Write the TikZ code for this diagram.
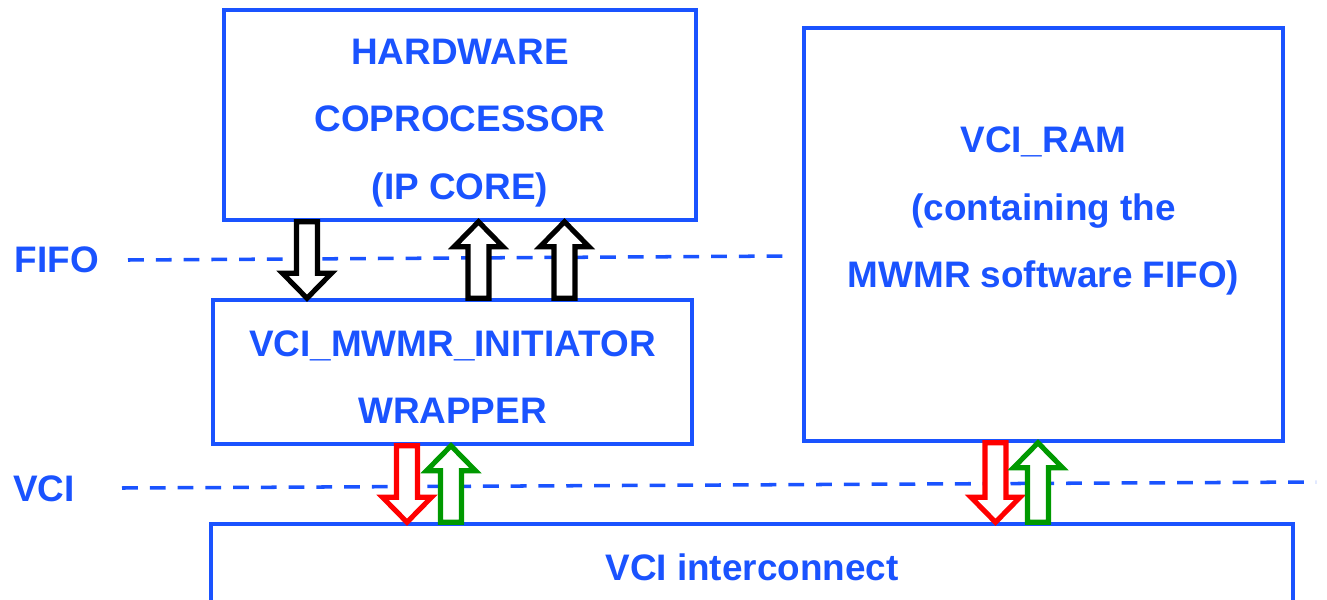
\documentclass[tikz,border=0pt]{standalone}
\usepackage{fontspec}
\setmainfont{Liberation Sans}
\usetikzlibrary{calc, positioning}
\definecolor{azul}{RGB}{26,83,255}
\definecolor{verde}{RGB}{0,153,0}

% hollow block arrow from tail #2 to tip #3
\newcommand{\shaftw}{0.21cm}
\newcommand{\headw}{0.49cm}
\newcommand{\headl}{0.5cm}
\newcommand{\fatarrow}[3]{%
  \coordinate (fa-t) at #2;
  \coordinate (fa-h) at #3;
  \coordinate (fa-b) at ($(fa-h)!\headl!(fa-t)$);
  \draw[#1] ($(fa-t)!\shaftw!90:(fa-h)$) -- ($(fa-b)!\shaftw!-90:(fa-t)$)
    -- ($(fa-b)!\headw!-90:(fa-t)$) -- (fa-h)
    -- ($(fa-b)!\headw!90:(fa-t)$) -- ($(fa-b)!\shaftw!90:(fa-t)$)
    -- ($(fa-t)!\shaftw!-90:(fa-h)$) -- cycle;}

\tikzset{
  unit/.style={draw=azul, line width=2pt},
  unittext/.style={align=center, text=azul,
    font=\bfseries\fontsize{21}{38.5}\selectfont},
  lbl/.style={text=azul, font=\bfseries\fontsize{21}{25}\selectfont},
  bus/.style={azul, line width=2pt, dash pattern=on 9pt off 6.8pt},
  fifoarrow/.style={draw=black, fill=white, line width=2.9pt},
  cmdarrow/.style={draw=red, fill=white, line width=2.9pt},
  rsparrow/.style={draw=verde, fill=white, line width=2.9pt},
}

\begin{document}
\begin{tikzpicture}
  \useasboundingbox (0,0) rectangle (26.54,-11.98);
  \clip (0,0) rectangle (26.54,-11.98);

  % interface levels
  \node[lbl] (fifo) at (1.14,-5.2) {FIFO};
  \node[lbl] (vci) at (0.88,-9.78) {VCI};
  \coordinate (fifoL) at (2.56,-5.2);
  \coordinate (fifoR) at (15.8,-5.12);
  \coordinate (vciL) at (2.44,-9.76);
  \coordinate (vciR) at (26.32,-9.64);
  \draw[bus] (fifoL) -- (fifoR);
  \draw[bus] (vciL) -- (vciR);

  % components
  \node[unit, minimum width=9.44cm, minimum height=4.2cm] (hw) at (9.2,-2.3) {};
  \node[unittext] (hwtext) at ([yshift=-0.16cm]hw.center)
    {HARDWARE\\COPROCESSOR\\(IP CORE)};
  \node[unit, minimum width=9.58cm, minimum height=2.88cm] (wrap) at (9.05,-7.44) {};
  \node[unittext] (wraptext) at ([yshift=-0.1cm]wrap.center)
    {VCI\_MWMR\_INITIATOR\\WRAPPER};
  \node[unit, minimum width=9.58cm, minimum height=8.26cm] (ram) at (20.87,-4.69) {};
  \node[unittext] (ramtext) at (20.87,-4.22)
    {VCI\_RAM\\(containing the\\MWMR software FIFO)};
  \node[unit, unittext, minimum width=21.64cm, minimum height=1.72cm] (net)
    at (15.04,-11.34) {VCI interconnect};

  % FIFO side
  \fatarrow{fifoarrow}{(6.14,0 |- hw.south)}{(6.14,0 |- wrap.north)}
  \fatarrow{fifoarrow}{(9.57,0 |- wrap.north)}{(9.57,0 |- hw.south)}
  \fatarrow{fifoarrow}{(11.29,0 |- wrap.north)}{(11.29,0 |- hw.south)}

  % VCI side
  \fatarrow{cmdarrow}{(8.14,0 |- wrap.south)}{(8.14,0 |- net.north)}
  \fatarrow{rsparrow}{(9.02,0 |- net.north)}{(9.02,0 |- wrap.south)}
  \fatarrow{cmdarrow}{(19.91,0 |- ram.south)}{(19.91,0 |- net.north)}
  \fatarrow{rsparrow}{(20.76,0 |- net.north)}{(20.76,0 |- ram.south)}
\end{tikzpicture}
\end{document}
